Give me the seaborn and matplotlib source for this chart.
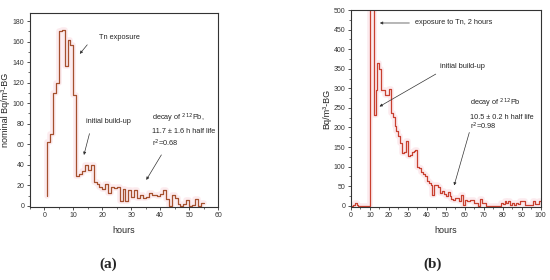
import matplotlib
matplotlib.use("Agg")
import matplotlib.pyplot as plt
from matplotlib.ticker import MultipleLocator
import seaborn as sns
import pandas as pd

# ---- data (a): step values, each value covers the hour ending at x ----
a_hours = list(range(1, 56))
a_vals = [10, 62, 70, 110, 120, 170, 171, 136, 162, 157, 108, 29, 31, 34, 40, 35,
          40, 23, 21, 18, 16, 21, 13, 18, 17, 18, 5, 16, 5, 15, 9, 15, 8, 11, 8,
          9, 13, 11, 11, 10, 12, 15, 7, 0, 11, 8, 2, 0, 2, 6, 0, 1, 7, 0, 3]

# ---- data (b) ----
b_hours = list(range(0, 101))
b_vals = [0,
          0, 2, 6, 3, 0, 0, 0, 0, 0, 0,
          1200, 1200, 233, 297, 365, 350, 297, 297, 284, 284,
          298, 238, 228, 205, 190, 177, 160, 136, 138, 165,
          126, 130, 138, 140, 143, 100, 96, 87, 80, 75,
          62, 58, 54, 28, 54, 52, 49, 32, 37, 30,
          24, 35, 24, 18, 15, 20, 20, 11, 28, 3,
          15, 11, 11, 15, 15, 7, 7, 0, 17, 7,
          7, 0, 0, 0, 0, 0, 0, 0, 0, 7,
          5, 11, 8, 11, 3, 8, 3, 8, 5, 11,
          11, 11, 3, 3, 3, 3, 11, 5, 5, 11]

df_a = pd.DataFrame({"hours": a_hours, "val": a_vals})
df_b = pd.DataFrame({"hours": b_hours, "val": b_vals})

sns.set_style("ticks")
plt.rcParams["font.family"] = ["Liberation Sans", "DejaVu Sans"]

fig = plt.figure(figsize=(5.5, 2.8), dpi=100)
ax_a = fig.add_axes([0.0545, 0.261, 0.342, 0.693])
ax_b = fig.add_axes([0.638, 0.261, 0.345, 0.703])

col_a = "#a5502e"
col_b = "#c8402f"
glow = "#f7c6cf"

for ax, df, col in [(ax_a, df_a, col_a), (ax_b, df_b, col_b)]:
    sns.lineplot(data=df, x="hours", y="val", ax=ax, drawstyle="steps-pre",
                 color=glow, lw=4, alpha=0.35, legend=False)
    sns.lineplot(data=df, x="hours", y="val", ax=ax, drawstyle="steps-pre",
                 color=col, lw=0.9, legend=False)
    for s in ax.spines.values():
        s.set_visible(True)
        s.set_linewidth(0.8)
        s.set_color("#333333")
    ax.tick_params(which="major", direction="out", length=2.5, width=0.6,
                   labelsize=5, pad=1.5, colors="#333333")
    ax.tick_params(which="minor", direction="out", length=1.5, width=0.5,
                   colors="#333333")
    ax.set_xlabel("hours", fontsize=6.5, labelpad=5)

# panel a axes
ax_a.set_xlim(-5, 60)
ax_a.set_ylim(-1, 188)
ax_a.xaxis.set_major_locator(MultipleLocator(10))
ax_a.xaxis.set_minor_locator(MultipleLocator(5))
ax_a.yaxis.set_major_locator(MultipleLocator(20))
ax_a.yaxis.set_minor_locator(MultipleLocator(10))
ax_a.set_ylabel("nominal Bq/m³-BG", fontsize=6.5, labelpad=2)

# panel b axes
ax_b.set_xlim(0, 100)
ax_b.set_ylim(-3, 500)
ax_b.xaxis.set_major_locator(MultipleLocator(10))
ax_b.xaxis.set_minor_locator(MultipleLocator(5))
ax_b.yaxis.set_major_locator(MultipleLocator(50))
ax_b.yaxis.set_minor_locator(MultipleLocator(25))
ax_b.set_ylabel("Bq/m³-BG", fontsize=6.5, labelpad=2)

arw = dict(arrowstyle="-|>", color="#333333", lw=0.5, mutation_scale=4)
fs = 5.3

# annotations (a)
ax_a.annotate("", xy=(11.6, 146), xytext=(15.4, 159), arrowprops=arw)
ax_a.text(19.0, 164, "Tn exposure", fontsize=fs, ha="left", va="center")
ax_a.annotate("", xy=(13.4, 47), xytext=(15.8, 73), arrowprops=arw)
ax_a.text(14.5, 82, "initial build-up", fontsize=fs, ha="left", va="center")
ax_a.annotate("", xy=(34.7, 23), xytext=(40.9, 52), arrowprops=arw)
ax_a.text(37.2, 85, "decay of $^{212}$Pb,", fontsize=fs, ha="left", va="center")
ax_a.text(37.2, 72, "11.7 ± 1.6 h half life", fontsize=fs, ha="left", va="center")
ax_a.text(37.2, 61, "r$^{2}$=0.68", fontsize=fs, ha="left", va="center")

# annotations (b)
ax_b.annotate("exposure to Tn, 2 hours", xy=(13.8, 467), xytext=(34, 467),
              fontsize=fs, ha="left", va="center", arrowprops=arw)
ax_b.annotate("", xy=(13.8, 250), xytext=(46, 340), arrowprops=arw)
ax_b.text(47, 357, "initial build-up", fontsize=fs, ha="left", va="center")
ax_b.annotate("", xy=(54, 45), xytext=(62.8, 194), arrowprops=arw)
ax_b.text(63, 262, "decay of $^{212}$Pb", fontsize=fs, ha="left", va="center")
ax_b.text(63, 226, "10.5 ± 0.2 h half life", fontsize=fs, ha="left", va="center")
ax_b.text(63, 203, "r$^{2}$=0.98", fontsize=fs, ha="left", va="center")

# panel labels
fig.text(0.196, 0.055, "(a)", fontsize=11, ha="center", va="center",
         family=["Liberation Serif", "DejaVu Serif"], fontweight="bold")
fig.text(0.786, 0.055, "(b)", fontsize=11, ha="center", va="center",
         family=["Liberation Serif", "DejaVu Serif"], fontweight="bold")

fig.savefig("out.png", dpi=100, facecolor="white")
